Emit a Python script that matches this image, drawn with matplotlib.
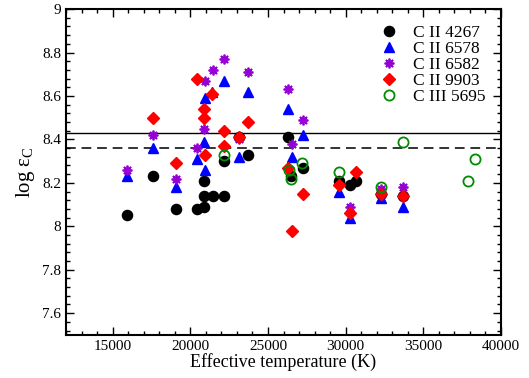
import numpy as np
import matplotlib
matplotlib.use('Agg')
import matplotlib.pyplot as plt
from matplotlib.ticker import MultipleLocator, FuncFormatter

plt.rcParams['font.family'] = ['Liberation Serif', 'DejaVu Serif']
plt.rcParams['mathtext.fontset'] = 'custom'
plt.rcParams['mathtext.rm'] = 'Liberation Serif'

# C II 4267
t_4267 = [15900, 17600, 19100, 20400, 20900, 20850, 21450, 22150, 20900, 22150,
          23700, 23100, 26300, 26500, 27250, 29550, 30650, 30250, 32250, 33700]
a_4267 = [8.05, 8.23, 8.08, 8.08, 8.09, 8.14, 8.14, 8.14, 8.21, 8.30,
          8.33, 8.41, 8.41, 8.23, 8.27, 8.21, 8.21, 8.19, 8.15, 8.14]
# C II 6578
t_6578 = [15900, 17600, 19100, 20450, 20950, 20880, 20920, 21400, 22150, 23100,
          23700, 26300, 26550, 27250, 29550, 30250, 32250, 33700]
a_6578 = [8.23, 8.36, 8.18, 8.31, 8.26, 8.39, 8.59, 8.62, 8.67, 8.32,
          8.62, 8.54, 8.32, 8.42, 8.16, 8.04, 8.13, 8.09]
# C II 6582
t_6582 = [15900, 17600, 19100, 20450, 20850, 20920, 21450, 22150, 23700, 23100,
          26300, 26550, 27250, 30250, 32250, 33700]
a_6582 = [8.26, 8.42, 8.22, 8.36, 8.45, 8.67, 8.72, 8.77, 8.71, 8.40,
          8.63, 8.38, 8.49, 8.09, 8.17, 8.18]
# C II 9903
t_9903 = [17600, 19100, 20450, 20880, 20900, 20950, 21400, 22150, 22150, 23100,
          23700, 26300, 27250, 26550, 29550, 30650, 30250, 32250, 33700]
a_9903 = [8.50, 8.29, 8.68, 8.54, 8.50, 8.33, 8.61, 8.44, 8.37, 8.41,
          8.48, 8.27, 8.15, 7.98, 8.19, 8.25, 8.06, 8.15, 8.14]
# C III 5695
t_5695 = [22150, 26350, 26500, 27200, 29550, 32250, 33700, 37850, 38350]
a_5695 = [8.33, 8.26, 8.22, 8.29, 8.25, 8.18, 8.39, 8.21, 8.31]

mean_solid = 8.43
mean_dash = 8.36

fig = plt.figure(figsize=(5.29, 3.78), dpi=100)
ax = fig.add_axes([0.125, 0.114, 0.822, 0.862])

ax.axhline(mean_solid, color='black', lw=1.0, zorder=1)
ax.axhline(mean_dash, color='#333333', lw=1.4, ls=(0, (5, 3)), zorder=1)

ax.plot(t_4267, a_4267, 'o', color='black', ms=7.3, ls='none', label='C II 4267')
ax.plot(t_6578, a_6578, '^', color='blue', ms=7.3, ls='none', label='C II 6578')
ax.plot(t_6582, a_6582, marker=(8, 2, 0), color='#9400d3', mec='#9400d3',
        ms=7, mew=1.3, ls='none', label='C II 6582')
ax.plot(t_9903, a_9903, 'D', color='red', ms=6, ls='none', label='C II 9903')
ax.plot(t_5695, a_5695, 'o', mfc='none', mec='#008c00', mew=1.3, ms=7.3,
        ls='none', label='C III 5695')

ax.set_xlim(12000, 40000)
ax.set_ylim(7.5, 9)
ax.xaxis.set_major_locator(MultipleLocator(5000))
ax.xaxis.set_minor_locator(MultipleLocator(1000))
ax.yaxis.set_major_locator(MultipleLocator(0.2))
ax.yaxis.set_minor_locator(MultipleLocator(0.04))
ax.yaxis.set_major_formatter(FuncFormatter(lambda v, p: '%g' % round(v, 2)))
ax.tick_params(which='both', direction='in', top=True, right=True, labelsize=11)
ax.tick_params(which='major', length=6, width=1)
ax.tick_params(which='minor', length=3, width=1)
for s in ax.spines.values():
    s.set_linewidth(1.5)

ax.set_xlabel('Effective temperature (K)', fontsize=13, labelpad=0)
ax.set_ylabel(r'log ε$_{\rm C}$', fontsize=15, labelpad=4)

ax.legend(loc='upper right', frameon=False, fontsize=12.5, handletextpad=0.7,
          labelspacing=0.0, borderaxespad=0.5, handlelength=1.3)

fig.savefig('out.png', dpi=100)
